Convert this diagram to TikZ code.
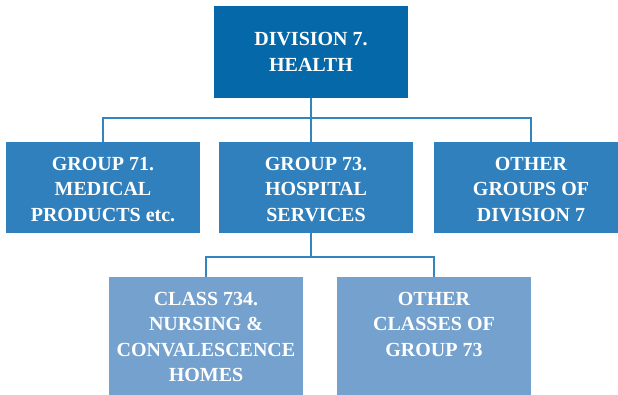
\documentclass[tikz,border=0pt]{standalone}
\usepackage{fontspec}
\setmainfont{Liberation Serif}
\usetikzlibrary{positioning}
\definecolor{divblue}{RGB}{5,104,168}
\definecolor{grpblue}{RGB}{47,128,188}
\definecolor{clsblue}{RGB}{116,161,205}
\definecolor{linkblue}{RGB}{52,132,192}
\tikzset{
  box/.style={rectangle,minimum width=194pt,inner sep=0pt,text=white,align=center,
    font=\bfseries\fontsize{20}{25.5}\selectfont},
  divbox/.style={box,fill=divblue,minimum height=92pt},
  grpbox/.style={box,fill=grpblue,minimum height=91pt},
  clsbox/.style={box,fill=clsblue,minimum height=130pt},
  boxtext/.style={box,minimum width=0pt,anchor=north},
  link/.style={draw=linkblue,line width=1.6pt}
}
\begin{document}
\begin{tikzpicture}[x=1pt,y=-1pt]
\useasboundingbox (0,0) rectangle (618,395);
\clip (0,0) rectangle (618,395);
% division
\node[divbox] (div7) at (311,52) {DIVISION 7.\\HEALTH};
% groups
\node[grpbox] (grp71) at (103,187.5) {};
\node[grpbox] (grp73) at (316,187.5) {};
\node[grpbox] (grpoth) at (531,187.5) {};
\node[boxtext,below=15pt of grp71.north] (grp71t) {GROUP 71.\\MEDICAL\\PRODUCTS etc.};
\node[boxtext,below=15pt of grp73.north] (grp73t) {GROUP 73.\\HOSPITAL\\SERVICES};
\node[boxtext,below=15pt of grpoth.north] (grpotht) {OTHER\\GROUPS OF\\DIVISION 7};
% classes
\node[clsbox] (cls734) at (206,342) {};
\node[clsbox] (clsoth) at (434,342) {};
\node[boxtext,below=15pt of cls734.north] (cls734t) {CLASS 734.\\NURSING \&\\CONVALESCENCE\\HOMES};
\node[boxtext,below=15pt of clsoth.north] (clsotht) {OTHER\\CLASSES OF\\GROUP 73};
% connectors
\coordinate (busA) at (311,118);
\coordinate (busB) at (311,257);
\draw[link] (div7.south) -- (busA);
\draw[link] (grp71.north) |- (busA) -| (grpoth.north);
\draw[link] (busA) -- (busA |- grp73.north);
\draw[link] (busA |- grp73.south) -- (busB);
\draw[link] (cls734.north) |- (busB) -| (clsoth.north);
\end{tikzpicture}
\end{document}
